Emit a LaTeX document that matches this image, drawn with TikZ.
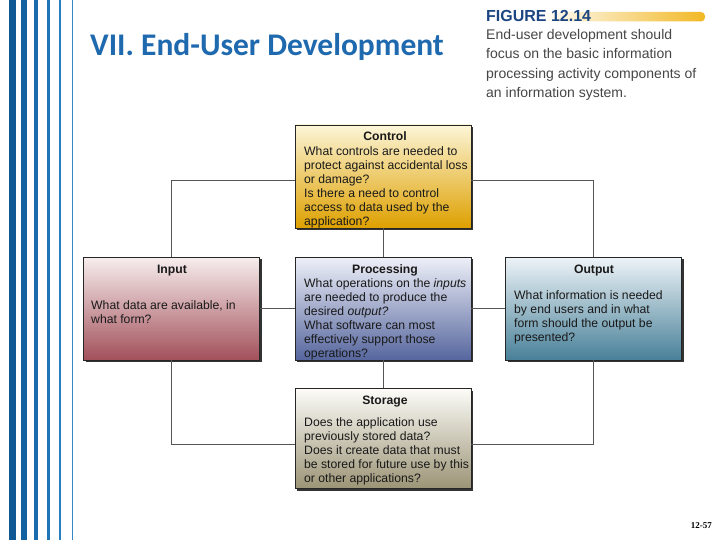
\documentclass[tikz,border=0pt]{standalone}
\usepackage{fontspec}
\setmainfont{Liberation Sans}
\newfontfamily\titlefont{Carlito}
\newfontfamily\numfont{Liberation Serif}
\usetikzlibrary{shadows}
\definecolor{titleblue}{RGB}{31,106,174}
\definecolor{capblue}{RGB}{28,70,130}
\definecolor{capgray}{RGB}{70,70,70}
\definecolor{connc}{RGB}{85,85,85}
\newcommand\fstrut{\rule{0pt}{10pt}}
\tikzset{
  box/.style={rectangle, draw=black!85, line width=0.8pt, inner sep=0pt,
    minimum width=176pt, minimum height=103pt,
    drop shadow={shadow xshift=2.2pt, shadow yshift=-2.2pt, fill=black!80, opacity=1}},
  ttl/.style={anchor=base, inner sep=0pt, font=\fontsize{12.2}{14}\selectfont\bfseries, text=black!90},
  body/.style={anchor=north west, inner sep=0pt, align=left, font=\fontsize{12.2}{14}\selectfont, text=black!90},
  conn/.style={draw=connc, line width=0.8pt}
}
\begin{document}
\begin{tikzpicture}[x=1pt,y=-1pt]
\useasboundingbox[fill=white] (0,0) rectangle (720,540);
% stripes
\fill[color={rgb,255:red,16;green,88;blue,148}] (9,0) rectangle (15.7,540);
\fill[color={rgb,255:red,20;green,98;blue,160}] (21,0) rectangle (27,540);
\fill[color={rgb,255:red,26;green,108;blue,172}] (34,0) rectangle (38,540);
\fill[color={rgb,255:red,32;green,117;blue,182}] (47,0) rectangle (50,540);
\fill[color={rgb,255:red,40;green,126;blue,190}] (59,0) rectangle (61,540);
\fill[color={rgb,255:red,50;green,135;blue,196}] (72,0) rectangle (73.2,540);
% title
\node[anchor=base west, inner sep=0pt, font=\titlefont\bfseries\fontsize{31.5}{34}\selectfont, text=titleblue] (title) at (90,56) {VII. End-User Development};
% figure caption
\shade[left color=white, right color={rgb,255:red,242;green,184;blue,36}, rounded corners=4pt] (540,12) rectangle (705,21.5);
\node[anchor=base west, inner sep=0pt, font=\fontsize{16}{17}\selectfont\bfseries, text=capblue] (fig) at (486,21.5) {FIGURE 12.14};
\node[anchor=north west, inner sep=0pt, align=left, font=\fontsize{14}{19.5}\selectfont, text=capgray] (cap) at (486,28.5) {\rule{0pt}{10.5pt}End-user development should\\focus on the basic information\\processing activity components of\\an information system.};
% boxes
\node[box, top color={rgb,255:red,252;green,245;blue,215}, middle color={rgb,255:red,245;green,208;blue,90}, bottom color={rgb,255:red,222;green,160;blue,0}] (ctrl) at (383,176.5) {};
\node[box, top color={rgb,255:red,247;green,238;blue,238}, bottom color={rgb,255:red,162;green,80;blue,90}] (inp) at (171.5,308.5) {};
\node[box, top color={rgb,255:red,238;green,240;blue,248}, bottom color={rgb,255:red,86;green,102;blue,158}] (proc) at (383,308.5) {};
\node[box, top color={rgb,255:red,238;green,244;blue,248}, bottom color={rgb,255:red,72;green,128;blue,152}] (outp) at (593.5,308.5) {};
\node[box, minimum height=100pt, top color={rgb,255:red,252;green,252;blue,248}, bottom color={rgb,255:red,156;green,148;blue,118}] (stor) at (383,438.5) {};
% connectors
\draw[conn] (inp.north) |- ([yshift=-3.5pt]ctrl.west);
\draw[conn] (outp.north) |- ([yshift=-3.5pt]ctrl.east);
\draw[conn] (inp.south) |- ([yshift=-5.5pt]stor.west);
\draw[conn] (outp.south) |- ([yshift=-5.5pt]stor.east);
\draw[conn] (inp.east) -- (proc.west);
\draw[conn] (proc.east) -- (outp.west);
\draw[conn] (ctrl.south) -- (proc.north);
\draw[conn] (proc.south) -- (stor.north);
% texts
\node[ttl] (ctrlT) at (385,141) {Control};
\node[body] (ctrlB) at (304,145) {\fstrut What controls are needed to\\protect against accidental loss\\or damage?\\Is there a need to control\\access to data used by the\\application?};
\node[ttl] (inpT) at (172,273) {Input};
\node[body] (inpB) at (91,299) {\fstrut What data are available, in\\what form?};
\node[ttl] (procT) at (385,273) {Processing};
\node[body] (procB) at (304,277) {\fstrut What operations on the \textit{inputs}\\are needed to produce the\\desired \textit{output?}\\What software can most\\effectively support those\\operations?};
\node[ttl] (outpT) at (594,273) {Output};
\node[body] (outpB) at (514,289) {\fstrut What information is needed\\by end users and in what\\form should the output be\\presented?};
\node[ttl] (storT) at (385,404) {Storage};
\node[body] (storB) at (304,416) {\fstrut Does the application use\\previously stored data?\\Does it create data that must\\be stored for future use by this\\or other applications?};
% page number
\node[anchor=base east, inner sep=0pt, font=\numfont\bfseries\fontsize{9}{10}\selectfont] (pnum) at (712,528) {12-57};
\end{tikzpicture}
\end{document}
